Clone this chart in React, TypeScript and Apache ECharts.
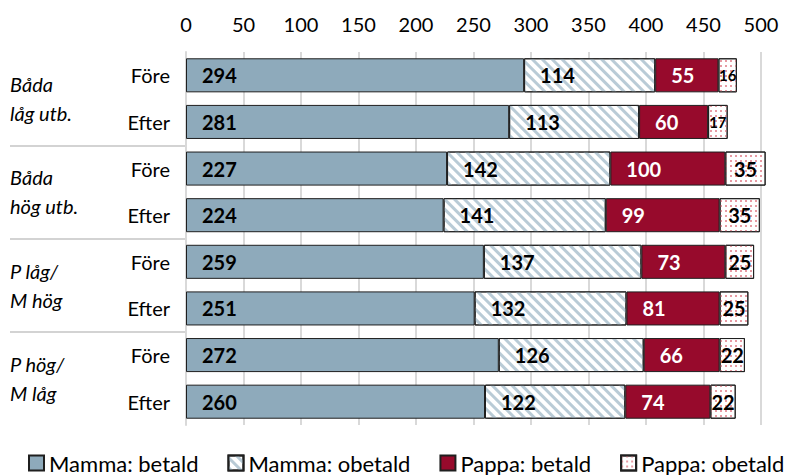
import React, { useEffect, useRef } from "react";
import * as echarts from "echarts";

const groups = ["Båda\nlåg utb.", "Båda\nhög utb.", "P låg/\nM hög", "P hög/\nM låg"];
const periods = ["Före", "Efter"];
const rows = [
  "Båda låg utb. Före", "Båda låg utb. Efter",
  "Båda hög utb. Före", "Båda hög utb. Efter",
  "P låg/M hög Före", "P låg/M hög Efter",
  "P hög/M låg Före", "P hög/M låg Efter",
];
const mammaBetald = [294, 281, 227, 224, 259, 251, 272, 260];
const mammaObetald = [114, 113, 142, 141, 137, 132, 126, 122];
const pappaBetald = [55, 60, 100, 99, 73, 81, 66, 74];
const pappaObetald = [16, 17, 35, 35, 25, 25, 22, 22];
const seriesNames = ["Mamma: betald", "Mamma: obetald", "Pappa: betald", "Pappa: obetald"];
const xMin = 0;
const xMax = 500;
const xInterval = 50;

const FONT = "Lato, 'Open Sans', sans-serif";

export default function App() {
  const ref = useRef<HTMLDivElement>(null);
  useEffect(() => {
    if (!ref.current) return;
    const chart = echarts.init(ref.current, undefined, { renderer: "svg" });
    const gridPos = { top: 52, bottom: 50 };
    const border = { borderColor: "#1f1f1f", borderWidth: 1 };
    const labelBase = { show: true, fontFamily: FONT, fontWeight: "bold" as const, fontSize: 20 };
    chart.setOption({
      animation: false,
      backgroundColor: "#ffffff",
      textStyle: { fontFamily: FONT },
      grid: [
        { left: 186, right: 34, ...gridPos },
        { left: 10, right: 609, ...gridPos },
      ],
      xAxis: [
        {
          type: "value",
          gridIndex: 0,
          position: "top",
          min: xMin,
          max: xMax,
          interval: xInterval,
          axisLine: { show: false },
          axisTick: { show: false },
          axisLabel: { fontFamily: FONT, fontSize: 20, color: "#000", margin: 18 },
          splitLine: { show: true, lineStyle: { color: "#d9d9d9", width: 2 } },
        },
        { type: "value", gridIndex: 1, show: false, min: 0, max: 1 },
      ],
      yAxis: [
        {
          type: "category",
          gridIndex: 0,
          data: rows,
          inverse: true,
          axisLine: { show: true, lineStyle: { color: "#d9d9d9", width: 2 } },
          axisTick: { show: false },
          axisLabel: {
            fontFamily: FONT,
            fontSize: 20,
            color: "#000",
            margin: 16,
            formatter: (_v: string, i: number) => periods[i % 2],
          },
        },
        {
          type: "category",
          gridIndex: 1,
          data: groups,
          inverse: true,
          axisLine: { show: false },
          axisTick: { show: false },
          axisLabel: {
            inside: true,
            margin: 0,
            fontFamily: FONT,
            fontStyle: "italic",
            fontSize: 20,
            lineHeight: 29,
            color: "#000",
          },
          splitLine: {
            show: true,
            lineStyle: { color: ["rgba(0,0,0,0)", "#c4c4c4", "#c4c4c4", "#c4c4c4"], width: 1.5 },
          },
        },
      ],
      legend: {
        top: 447,
        left: 23,
        width: 790,
        itemGap: 29,
        itemWidth: 15,
        itemHeight: 15,
        icon: "rect",
        textStyle: { fontFamily: FONT, fontSize: 22, color: "#000" },
        data: seriesNames,
      },
      series: [
        {
          name: seriesNames[0],
          type: "bar",
          stack: "total",
          barWidth: "73%",
          clip: false,
          data: mammaBetald,
          itemStyle: { color: "#8eaabb", ...border },
          label: { ...labelBase, position: "insideLeft", distance: 16, color: "#000" },
        },
        {
          name: seriesNames[1],
          type: "bar",
          stack: "total",
          clip: false,
          data: mammaObetald,
          itemStyle: {
            color: "#ffffff",
            ...border,
            decal: {
              symbol: "rect",
              symbolSize: 1,
              dashArrayX: [1, 0],
              dashArrayY: [3, 4],
              rotation: Math.PI / 4,
              color: "#b9cbd6",
            },
          },
          label: { ...labelBase, position: "insideLeft", distance: 16, color: "#000" },
        },
        {
          name: seriesNames[2],
          type: "bar",
          stack: "total",
          clip: false,
          data: pappaBetald,
          itemStyle: { color: "#970a2c", ...border },
          label: { ...labelBase, position: "insideLeft", distance: 16, color: "#fff" },
        },
        {
          name: seriesNames[3],
          type: "bar",
          stack: "total",
          clip: false,
          data: pappaObetald.map((v) => ({
            value: v,
            label: v < 20 ? { fontSize: 15 } : undefined,
          })),
          itemStyle: {
            color: "#ffffff",
            ...border,
            decal: {
              symbol: "rect",
              symbolSize: 1,
              dashArrayX: [2, 3],
              dashArrayY: [2, 3],
              color: "#e79aa3",
            },
          },
          label: { ...labelBase, position: "inside", color: "#000" },
        },
      ],
    });
    return () => chart.dispose();
  }, []);
  return (
    <div
      ref={ref}
      style={{ position: "fixed", left: 0, top: 0, width: 795, height: 475 }}
    />
  );
}
